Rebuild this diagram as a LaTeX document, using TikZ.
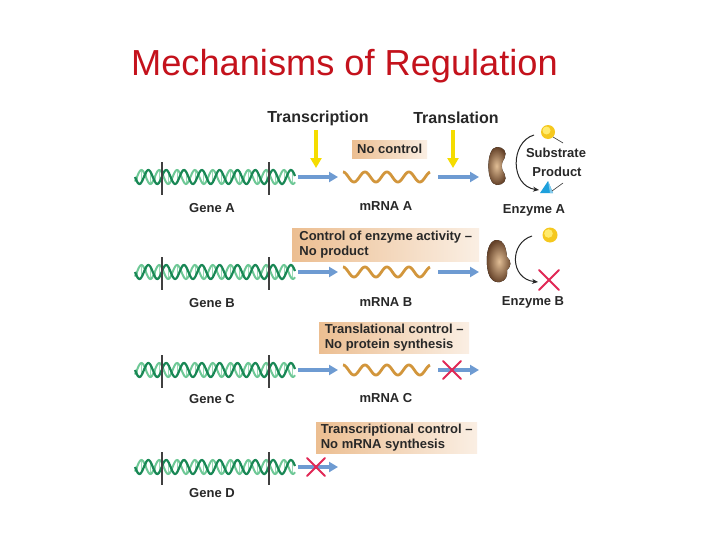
\documentclass[tikz,border=0pt]{standalone}
\usepackage{fontspec}
\setmainfont{Liberation Sans}
\usetikzlibrary{arrows.meta,shapes.geometric}
\definecolor{titlered}{RGB}{196,18,28}
\definecolor{dnadark}{RGB}{25,135,85}
\definecolor{dnalight}{RGB}{110,200,150}
\definecolor{mrnac}{RGB}{210,150,60}
\definecolor{bluearr}{RGB}{110,155,210}
\definecolor{yellowarr}{RGB}{245,220,0}
\definecolor{redx}{RGB}{225,40,85}
\definecolor{boxtan}{RGB}{236,190,145}
\definecolor{enzl}{RGB}{225,190,150}
\definecolor{enzd}{RGB}{100,65,40}
\definecolor{cyantri}{RGB}{30,160,220}
\definecolor{txt}{RGB}{40,40,40}
\definecolor{subin}{RGB}{255,235,110}
\definecolor{subout}{RGB}{245,200,30}
\tikzset{
  lbl/.style={font=\fontsize{13}{14.5}\selectfont\bfseries, text=txt, inner sep=0pt},
  hdr/.style={font=\fontsize{16}{18}\selectfont\bfseries, text=txt, inner sep=0pt},
  tbox/.style={anchor=north west, left color=boxtan, right color=boxtan!25, draw=none,
     font=\fontsize{13}{14.5}\selectfont\bfseries, text=txt, align=left,
     inner xsep=4pt, inner ysep=2pt},
  bluearrow/.style={draw=bluearr, line width=3.6pt, -{Triangle[width=10pt,length=9pt]}},
  yellowarrow/.style={draw=yellowarr, line width=3.4pt, -{Triangle[width=11pt,length=10pt]}},
  redcross/.style={draw=redx, line width=2pt, line cap=round},
  strandA/.style={draw=dnadark, line width=2.2pt},
  strandB/.style={draw=dnalight, line width=2pt},
  rung/.style={draw=dnalight!70!white, line width=0.6pt},
  genebar/.style={draw=black!75, line width=1.3pt},
  rnastrand/.style={draw=mrnac, line width=2.8pt},
  curvarrow/.style={draw=black!85, line width=1pt, -{Stealth[length=6pt,width=5pt]}},
  pointer/.style={draw=black!80, line width=0.6pt},
  substrate ball/.style={fill=subout},
  kidney/.pic={
    \fill[inner color=enzl, outer color=enzd]
      (1,-19) .. controls (-11,-19) and (-11,19) .. (1,19)
      .. controls (8,19) and (12,14) .. (9,8)
      .. controls (5,3) and (5,-3) .. (9,-8)
      .. controls (12,-14) and (8,-19) .. (1,-19) -- cycle;
  }
}
\begin{document}
\begin{tikzpicture}[x=1pt,y=-1pt]
\useasboundingbox[fill=white] (0,0) rectangle (728,546);

% title
\node[anchor=base west, inner sep=0pt, text=titlered, font=\fontsize{36.2}{40}\selectfont] (title) at (131,75) {Mechanisms of Regulation};

% headers
\node[hdr] (transcription) at (318,118) {Transcription};
\node[hdr] (translation) at (456,118) {Translation};
\coordinate (ya1s) at (316,130);
\coordinate (ya1e) at (316,168);
\coordinate (ya2s) at (453,130);
\coordinate (ya2e) at (453,168);
\draw[yellowarrow] (ya1s) -- (ya1e);
\draw[yellowarrow] (ya2s) -- (ya2e);

% gene rows
\foreach \r/\yy/\gl in {A/177/208,B/272/303,C/370/399,D/467/493}{
  \foreach \k in {0,...,35}{
    \pgfmathsetmacro{\xx}{137+\k*4.45}
    \draw[rung] (\xx,{\yy+7*sin((\xx-135)*20.2)}) -- (\xx,{\yy+7*sin((\xx-135)*20.2+140)});
  }
  \draw[strandB] plot[domain=135:295,samples=180,smooth] (\x,{\yy+7*sin((\x-135)*20.2+140)});
  \draw[strandA] plot[domain=135:295,samples=180,smooth] (\x,{\yy+7*sin((\x-135)*20.2)});
  \draw[genebar] (162,\yy-15) -- (162,\yy+18);
  \draw[genebar] (269,\yy-15) -- (269,\yy+18);
  \node[lbl] (gene\r) at (212,\gl) {Gene \r};
  \coordinate (ar1s\r) at (298,\yy);
  \coordinate (ar1e\r) at (338,\yy);
  \draw[bluearrow] (ar1s\r) -- (ar1e\r);
}

% mRNA strands (rows A, B, C)
\foreach \r/\yy/\ml in {A/177/206,B/272/302,C/370/398}{
  \draw[rnastrand] plot[domain=343:430,samples=120,smooth] (\x,{\yy-5*sin((\x-343)*16.4+90)});
  \node[lbl] (mrna\r) at (386,\ml) {mRNA \r};
  \coordinate (ar2s\r) at (438,\yy);
  \coordinate (ar2e\r) at (479,\yy);
  \draw[bluearrow] (ar2s\r) -- (ar2e\r);
}

% boxes
\node[tbox, minimum width=75pt, minimum height=18pt] (boxA) at (352,140) {No control};
\node[tbox, minimum width=187pt, minimum height=33pt] (boxB) at (292,228) {Control of enzyme activity –\\No product};
\node[tbox, minimum width=150pt, minimum height=31pt] (boxC) at (319,322) {Translational control –\\No protein synthesis};
\node[tbox, minimum width=161pt, minimum height=31pt] (boxD) at (316,422) {Transcriptional control –\\No mRNA synthesis};

% red crosses on blocked arrows
\coordinate (xc) at (452,370);
\coordinate (xd) at (316,467);
\draw[redcross] ([shift={(-9,-9)}]xc) -- ([shift={(9,9)}]xc);
\draw[redcross] ([shift={(-9,9)}]xc) -- ([shift={(9,-9)}]xc);
\draw[redcross] ([shift={(-9,-9)}]xd) -- ([shift={(9,9)}]xd);
\draw[redcross] ([shift={(-9,9)}]xd) -- ([shift={(9,-9)}]xd);

% Enzyme A
\pic[xscale=0.95] at (496,166) {kidney};
\coordinate (caS) at (534,135);
\coordinate (caE) at (539,190);
\draw[curvarrow] (caS) .. controls (510,142) and (510,186) .. (caE);
\fill[substrate ball] (548,132) circle (7);
\fill[subin] (546.5,130.5) circle (4);
\node[inner sep=0pt] (subA) at (548,132) {};
\coordinate (subP) at (563,143);
\draw[pointer] (subA) ++(5,5) -- (subP);
\fill[cyantri] (540,193) -- (553,193) -- (548,181) -- cycle;
\fill[cyantri!55!white] (548,181) -- (553,193) -- (550,193) -- cycle;
\coordinate (triP) at (563,183);
\coordinate (triQ) at (552,191);
\draw[pointer] (triQ) -- (triP);
\node[lbl] (substrate) at (556,153) {Substrate};
\node[lbl] (product) at (557,172) {Product};
\node[lbl] (enzA) at (534,210) {Enzyme A};

% Enzyme B
\fill[inner color=enzl, outer color=enzd]
  (497,240) .. controls (489,240) and (486,252) .. (487,265)
  .. controls (488,278) and (493,283) .. (500,282)
  .. controls (506,281) and (508,275) .. (507,270)
  .. controls (511,267) and (512,261) .. (507,257)
  .. controls (506,246) and (503,240) .. (497,240) -- cycle;
\coordinate (cbS) at (532,236);
\coordinate (cbE) at (538,282);
\draw[curvarrow] (cbS) .. controls (509,243) and (510,279) .. (cbE);
\fill[substrate ball] (550,235) circle (7.5);
\fill[subin] (548.5,233.5) circle (4.3);
\coordinate (xb) at (549,280);
\draw[redcross] ([shift={(-10,-10)}]xb) -- ([shift={(10,10)}]xb);
\draw[redcross] ([shift={(-10,10)}]xb) -- ([shift={(10,-10)}]xb);
\node[lbl] (enzB) at (533,302) {Enzyme B};
\end{tikzpicture}
\end{document}
